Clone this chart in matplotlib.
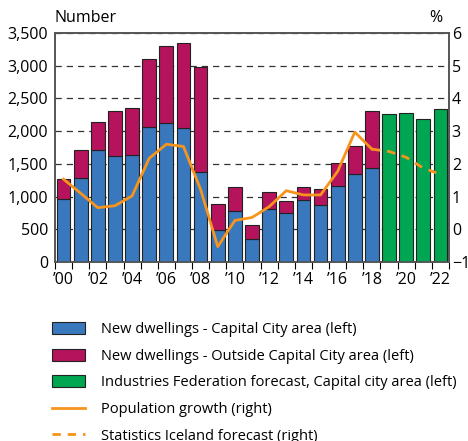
import matplotlib.pyplot as plt
from matplotlib.patches import Patch
from matplotlib.lines import Line2D

plt.rcParams['font.family'] = ['Open Sans', 'DejaVu Sans']

# Ár og gögn
years = list(range(2000, 2023))
capital = [964, 1281, 1709, 1617, 1633, 2056, 2122, 2046, 1372, 485, 776,
           347, 816, 745, 954, 878, 1168, 1342, 1434]
outside = [301, 428, 429, 694, 719, 1051, 1174, 1301, 1608, 408, 367,
           214, 255, 184, 189, 239, 342, 428, 872]
forecast_years = [2019, 2020, 2021, 2022]
forecast = [2265, 2276, 2184, 2337]

pop_years = list(range(2000, 2019))
pop_growth = [1.53, 1.10, 0.66, 0.72, 1.02, 2.17, 2.60, 2.53, 1.22, -0.53,
              0.27, 0.36, 0.69, 1.18, 1.05, 1.05, 1.77, 2.97, 2.45]
stat_years = [2018, 2019, 2020, 2021, 2022]
stat_forecast = [2.45, 2.38, 2.20, 1.87, 1.68]

tick_labels = ["\u201900", "\u201902", "\u201904", "\u201906", "\u201908", "\u201910",
               "\u201912", "\u201914", "\u201916", "\u201918", "\u201920", "\u201922"]

blue = '#3a78bd'
magenta = '#b5135c'
green = '#00a651'
orange = '#f7941d'

fig = plt.figure(figsize=(4.68, 4.41), dpi=100)
ax = fig.add_axes([55 / 468, 1 - 262 / 441, 394 / 468, 229 / 441])
ax2 = ax.twinx()

x = [y - 2000 for y in years[:len(capital)]]
xf = [y - 2000 for y in forecast_years]
w = 0.8
ax.bar(x, capital, w, color=blue, edgecolor='#222222', linewidth=0.8, zorder=3)
ax.bar(x, outside, w, bottom=capital, color=magenta, edgecolor='#222222',
       linewidth=0.8, zorder=3)
ax.bar(xf, forecast, w, color=green, edgecolor='#222222', linewidth=0.8, zorder=3)

ax.set_ylim(0, 3500)
ax.set_yticks(range(0, 3501, 500))
ax.set_yticklabels([f'{v:,}' for v in range(0, 3501, 500)])
ax.set_xlim(-0.5, 22.5)
ax.set_xticks([i - 0.5 for i in range(24)])
ax.set_xticklabels([])
ax.set_xticks(list(range(0, 23, 2)), minor=True)
ax.set_xticklabels(tick_labels, minor=True)
ax.tick_params(axis='x', which='major', length=5, width=0.8)
ax.tick_params(axis='x', which='minor', length=0, labelsize=11.5, pad=7)
ax.tick_params(axis='y', length=0, labelsize=11.5, pad=5)
ax.grid(axis='y', linestyle=(0, (5, 4)), color='#333333', linewidth=0.9, zorder=0)
ax.set_axisbelow(True)

ax2.plot([y - 2000 for y in pop_years], pop_growth, color=orange, linewidth=2)
ax2.plot([y - 2000 for y in stat_years], stat_forecast, color=orange,
         linewidth=2, linestyle=(0, (3, 2.5)))
ax2.set_ylim(-1, 6)
ax2.set_yticks(range(-1, 7))
ax2.tick_params(axis='y', length=0, labelsize=11.5, pad=2)

for a in (ax, ax2):
    for s in a.spines.values():
        s.set_color('#555555')
        s.set_linewidth(1.2)

fig.text(55 / 468, 1 - 18 / 441, 'Number', fontsize=11.5, ha='left', va='center')
fig.text(436 / 468, 1 - 18 / 441, '%', fontsize=11.5, ha='center', va='center')

handles = [
    Patch(facecolor=blue, edgecolor='#222222', linewidth=0.8),
    Patch(facecolor=magenta, edgecolor='#222222', linewidth=0.8),
    Patch(facecolor=green, edgecolor='#222222', linewidth=0.8),
    Line2D([], [], color=orange, linewidth=2),
    Line2D([], [], color=orange, linewidth=2, linestyle=(0, (3, 2.5))),
]
labels = [
    'New dwellings - Capital City area (left)',
    'New dwellings - Outside Capital City area (left)',
    'Industries Federation forecast, Capital city area (left)',
    'Population growth (right)',
    'Statistics Iceland forecast (right)',
]
fig.legend(handles, labels, loc='upper left', bbox_to_anchor=(46 / 468, 1 - 316 / 441),
           frameon=False, fontsize=10.5, handlelength=2.3, handleheight=0.9,
           handletextpad=1.1, labelspacing=0.8, borderaxespad=0)

fig.savefig('out.png', dpi=100)
